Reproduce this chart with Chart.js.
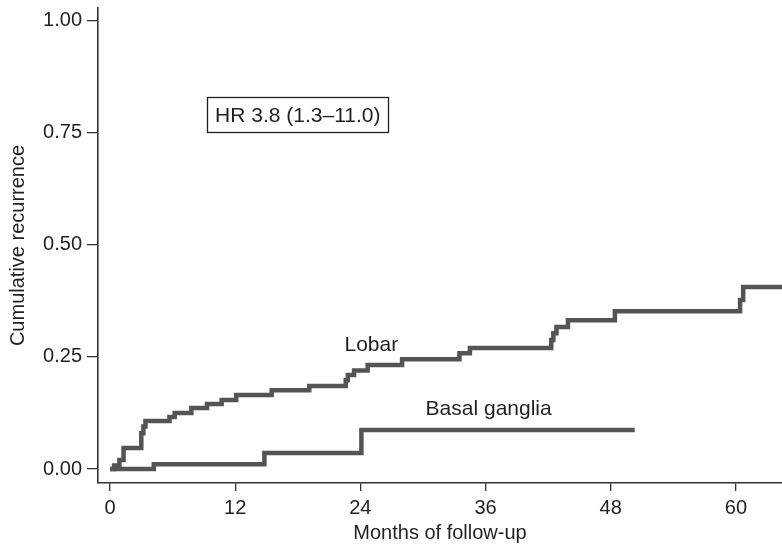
<!DOCTYPE html>
<html>
<head>
<meta charset="utf-8">
<script src="https://cdn.jsdelivr.net/npm/chart.js@4"></script>
<style>
  html, body { margin: 0; padding: 0; background: #ffffff; }
  #wrap { width: 782px; height: 548px; position: relative; }
</style>
</head>
<body>
<div id="wrap"><canvas id="c" width="782" height="548"></canvas></div>
<script>
// ---- Data ----
const lobarMonths     = [0, 0.4, 0.9, 1.3, 3.0, 3.2, 3.4, 5.7, 6.2, 7.8, 9.3, 10.7, 12.1, 15.5, 19.1, 22.6, 22.8, 23.4, 24.7, 28.0, 33.5, 34.5, 42.3, 42.5, 42.8, 43.9, 48.4, 60.4, 60.7, 65];
const lobarRecurrence = [0, 0.008, 0.02, 0.047, 0.08, 0.095, 0.107, 0.116, 0.125, 0.136, 0.145, 0.154, 0.165, 0.176, 0.185, 0.198, 0.21, 0.22, 0.232, 0.245, 0.258, 0.27, 0.288, 0.303, 0.317, 0.332, 0.352, 0.377, 0.406, 0.406];
const basalMonths     = [0, 4.2, 14.8, 24.1, 50.3];
const basalRecurrence = [0, 0.011, 0.036, 0.087, 0.087];
const xTickValues = [0, 12, 24, 36, 48, 60];
const yTickValues = [0, 0.25, 0.5, 0.75, 1.0];
const seriesNames = ['Lobar', 'Basal ganglia'];
const hrText = 'HR 3.8 (1.3\u201311.0)';
const xTitle = 'Months of follow-up';
const yTitle = 'Cumulative recurrence';

const toPoints = (xs, ys) => xs.map((x, i) => ({x: x, y: ys[i]}));

const FONT = "'Liberation Sans', Arial, sans-serif";
const TEXT = '#231f20';
const LINE = '#545454';

const annotations = {
  id: 'annotations',
  afterDatasetsDraw(chart) {
    const {ctx, scales: {x, y}} = chart;
    ctx.save();
    ctx.fillStyle = TEXT;
    ctx.font = '21px ' + FONT;
    ctx.textAlign = 'center';
    ctx.textBaseline = 'middle';
    ctx.fillText(seriesNames[0], x.getPixelForValue(25.05), y.getPixelForValue(0.276));
    ctx.fillText(seriesNames[1], x.getPixelForValue(36.3), y.getPixelForValue(0.134));
    // HR box
    const cx = x.getPixelForValue(18.0), cy = y.getPixelForValue(0.79);
    const w = ctx.measureText(hrText).width + 16, h = 35;
    ctx.fillText(hrText, cx, cy + 1);
    ctx.strokeStyle = '#231f20';
    ctx.lineWidth = 1.3;
    ctx.strokeRect(Math.round(cx - w / 2) + 0.5, Math.round(cy - h / 2) + 0.5, Math.round(w), h);
    ctx.restore();
  }
};

new Chart(document.getElementById('c'), {
  type: 'line',
  data: {
    datasets: [
      { label: seriesNames[0], data: toPoints(lobarMonths, lobarRecurrence), stepped: true,
        borderColor: LINE, borderWidth: 4.5, pointRadius: 0, fill: false, borderJoinStyle: 'miter', borderCapStyle: 'butt' },
      { label: seriesNames[1], data: toPoints(basalMonths, basalRecurrence), stepped: true,
        borderColor: LINE, borderWidth: 4.5, pointRadius: 0, fill: false, borderJoinStyle: 'miter', borderCapStyle: 'butt' }
    ]
  },
  options: {
    responsive: false,
    animation: false,
    devicePixelRatio: 1,
    layout: { padding: { top: 8, right: 0, left: 0, bottom: 0 } },
    plugins: { legend: { display: false }, tooltip: { enabled: false } },
    scales: {
      x: {
        type: 'linear',
        min: -1.15, max: 64.42,
        afterBuildTicks: s => { s.ticks = xTickValues.map(v => ({value: v})); },
        afterFit: s => { s.height = 65; s.paddingLeft = 0; s.paddingRight = 0; },
        grid: { display: true, drawOnChartArea: false, drawTicks: true, tickLength: 8, color: '#333', lineWidth: 1.3 },
        border: { display: true, color: '#333', width: 1.6 },
        ticks: { color: TEXT, font: { family: FONT, size: 20 }, padding: 5, maxRotation: 0, autoSkip: false },
        title: { display: true, text: xTitle, color: TEXT, font: { family: FONT, size: 20 }, padding: { top: 0, bottom: 3 } }
      },
      y: {
        type: 'linear',
        min: -0.031, max: 1.0279,
        afterBuildTicks: s => { s.ticks = yTickValues.map(v => ({value: v})); },
        afterFit: s => { s.width = 98; s.paddingTop = 0; s.paddingBottom = 0; },
        grid: { display: true, drawOnChartArea: false, drawTicks: true, tickLength: 11, color: '#333', lineWidth: 1.3 },
        border: { display: true, color: '#333', width: 1.6 },
        ticks: { color: TEXT, font: { family: FONT, size: 20 }, padding: 5, autoSkip: false,
                 callback: v => Number(v).toFixed(2) },
        title: { display: true, text: yTitle, color: TEXT, font: { family: FONT, size: 20 }, padding: { top: 6, bottom: 0 } }
      }
    }
  },
  plugins: [annotations]
});
</script>
</body>
</html>
